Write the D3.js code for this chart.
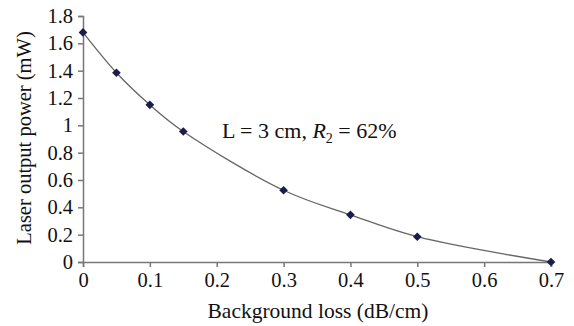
<!DOCTYPE html>
<html>
<head>
<meta charset="utf-8">
<script src="https://cdn.jsdelivr.net/npm/d3@7"></script>
<style>
  body { margin: 0; background: #fff; }
  text { font-family: "Liberation Serif", "Times New Roman", serif; fill: #111; }
</style>
</head>
<body>
<div id="chart"></div>
<script>
//Data
const lossValues = [0, 0.05, 0.1, 0.15, 0.3, 0.4, 0.5, 0.7];
const powerValues = [1.68, 1.385, 1.15, 0.955, 0.525, 0.345, 0.185, 0];
const xTicks = [0, 0.1, 0.2, 0.3, 0.4, 0.5, 0.6, 0.7];
const yTicks = [0, 0.2, 0.4, 0.6, 0.8, 1, 1.2, 1.4, 1.6, 1.8];

const chartWidth = 574;
const chartHeight = 326;
const margin = {top: 16, right: 23, bottom: 64, left: 83};

const x = d3.scaleLinear().domain([0, 0.7]).range([margin.left, chartWidth - margin.right]);
const y = d3.scaleLinear().domain([0, 1.8]).range([chartHeight - margin.bottom, margin.top]);

const svg = d3.select('#chart')
  .append('svg')
  .attr('width', chartWidth)
  .attr('height', chartHeight);

//Axes
const xAxis = svg.append('g')
  .attr('transform', `translate(0,${y(0)})`)
  .call(d3.axisBottom(x).tickValues(xTicks).tickSize(5).tickPadding(5).tickFormat(d3.format('')));

const yAxis = svg.append('g')
  .attr('transform', `translate(${x(0)},0)`)
  .call(d3.axisLeft(y).tickValues(yTicks).tickSize(5).tickPadding(5).tickFormat(d3.format('')));

[xAxis, yAxis].forEach(g => {
  g.select('.domain').attr('stroke', '#777').attr('stroke-width', 1.5);
  g.selectAll('.tick line').attr('stroke', '#777').attr('stroke-width', 1.5);
  g.selectAll('.tick text')
    .attr('font-size', 20.5)
    .attr('fill', '#111');
});

//Curve
const points = lossValues.map((v, i) => [v, powerValues[i]]);

const line = d3.line()
  .x(d => x(d[0]))
  .y(d => y(d[1]))
  .curve(d3.curveCatmullRom.alpha(0.5));

svg.append('path')
  .datum(points)
  .attr('d', line)
  .attr('fill', 'none')
  .attr('stroke', '#666')
  .attr('stroke-width', 1.3);

//Diamond markers
svg.selectAll('.marker')
  .data(points)
  .enter()
  .append('path')
  .attr('class', 'marker')
  .attr('d', d3.symbol().type(d3.symbolDiamond2).size(48))
  .attr('transform', d => `translate(${x(d[0])},${y(d[1])})`)
  .attr('fill', '#1c1c4c');

//Labels
svg.append('text')
  .attr('x', 318)
  .attr('y', 318)
  .attr('text-anchor', 'middle')
  .attr('font-size', 21.5)
  .text('Background loss (dB/cm)');

svg.append('text')
  .attr('transform', `translate(31,138) rotate(-90)`)
  .attr('text-anchor', 'middle')
  .attr('font-size', 20.5)
  .text('Laser output power (mW)');

const note = svg.append('text')
  .attr('x', 222)
  .attr('y', 138)
  .attr('font-size', 22);
note.append('tspan').text('L = 3 cm, ');
note.append('tspan').attr('font-style', 'italic').text('R');
note.append('tspan').attr('font-size', 14).attr('dy', 5).text('2');
note.append('tspan').attr('dy', -5).text(' = 62%');
</script>
</body>
</html>
